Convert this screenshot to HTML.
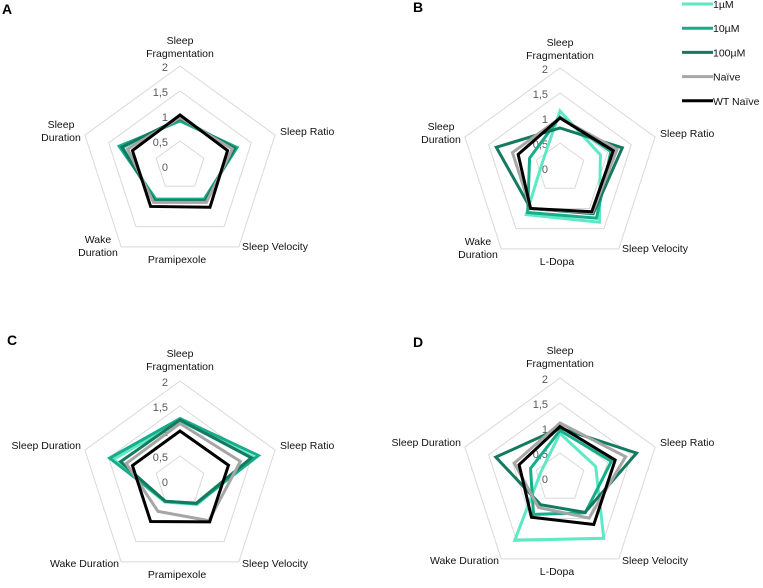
<!DOCTYPE html>
<html><head><meta charset="utf-8"><style>
body{margin:0;background:#fff;}
svg{display:block;font-family:"Liberation Sans",sans-serif;}
</style></head><body>
<svg id="chart" width="763" height="588" viewBox="0 0 763 588" xmlns="http://www.w3.org/2000/svg"></svg>
<script>
const axes = ["Sleep Fragmentation","Sleep Ratio","Sleep Velocity","Wake Duration","Sleep Duration"];
const seriesNames = ["1µM","10µM","100µM","Naïve","WT Naïve"];
const seriesColors = ["#5de8c6","#17ad8a","#147a5f","#a6a6a6","#000000"];
const ticks = [0,0.5,1,1.5,2];
const tickLabels = ["0","0,5","1","1,5","2"];
// values per panel, order of axes
const panelA = [[0.92,1.15,0.85,0.85,1.2],[0.9,1.2,0.82,0.82,1.28],[0.95,1.15,0.86,0.86,1.22],[0.97,1.1,0.9,0.9,1.1],[1.02,1.0,1.02,1.0,1.0]];
const panelB = [[1.14,0.85,1.34,1.15,0.37],[1.02,1.07,1.24,1.1,0.64],[0.8,1.31,1.13,1.0,1.34],[1.0,1.2,1.1,1.0,1.0],[1.0,1.12,1.08,1.0,0.88]];
const panelC = [[1.2,1.55,0.58,0.52,1.4],[1.25,1.65,0.56,0.5,1.48],[1.22,1.5,0.55,0.5,1.25],[1.15,1.27,0.98,0.75,1.13],[1.0,1.02,1.01,1.0,1.0]];
const panelD = [[0.89,0.75,1.49,1.54,0.4],[0.95,1.08,0.86,0.9,0.62],[1.0,1.61,0.85,0.66,1.35],[1.1,1.38,0.99,0.73,0.96],[1.03,1.16,1.15,0.97,0.86]];

const NS="http://www.w3.org/2000/svg";
const svg=document.getElementById('chart');
const R=50; // px per unit
function pt(cx,cy,i,v){const a=i*72*Math.PI/180;return [cx+v*R*Math.sin(a),cy-v*R*Math.cos(a)];}
function mk(tag,attrs,parent){const e=document.createElementNS(NS,tag);for(const k in attrs)e.setAttribute(k,attrs[k]);(parent||svg).appendChild(e);return e;}
function txt(x,y,s,anchor,parent,size,fill){const t=mk('text',{x:x,y:y,'text-anchor':anchor||'middle','font-size':size||10.5,fill:fill||'#111'},parent);t.textContent=s;return t;}

function panel(id,letter,lx,ly,cx,cy,data,compound,layout){
  const g=mk('g',{});
  
  
  const L=txt(lx,ly,letter,'start',g,14,'#000');L.setAttribute('font-weight','bold');
  
  
  ticks.forEach((t,k)=>{
    if(t>0){const p=[0,1,2,3,4].map(i=>pt(cx,cy,i,t).join(',')).join(' ');
      const ring=mk('polygon',{points:p,fill:'none',stroke:'#d9d9d9','stroke-width':1},g);
      
      }
    const tl=txt(cx-12,cy-t*R+5,tickLabels[k],'end',g,11,'#595959');
    
    
  });
  data.forEach((vals,s)=>{
    const p=vals.map((v,i)=>pt(cx,cy,i,v).join(',')).join(' ');
    const pl=mk('polygon',{points:p,fill:'none',stroke:seriesColors[s],'stroke-width':3,'stroke-linejoin':'miter'},g);
    
    
  });
  layout.forEach(l=>{
    l.lines.forEach((s,j)=>{const t=txt(cx+l.dx,cy+l.dy+j*13,s,l.a,g);
      
      });
  });
  const c=txt(cx-3,cy+97,compound,'middle',g);
  
  
}
const layTop=[
 {dx:0,dy:-122,lines:["Sleep","Fragmentation"],a:'middle'},
 {dx:100,dy:-31,lines:["Sleep Ratio"],a:'start'},
 {dx:62,dy:84,lines:["Sleep Velocity"],a:'start'},
 {dx:-82,dy:77,lines:["Wake","Duration"],a:'middle'},
 {dx:-119,dy:-38,lines:["Sleep","Duration"],a:'middle'}];
const layBot=[
 {dx:0,dy:-124,lines:["Sleep","Fragmentation"],a:'middle'},
 {dx:100,dy:-32,lines:["Sleep Ratio"],a:'start'},
 {dx:62,dy:86,lines:["Sleep Velocity"],a:'start'},
 {dx:-61,dy:86,lines:["Wake Duration"],a:'end'},
 {dx:-99,dy:-32,lines:["Sleep Duration"],a:'end'}];
panel('a','A',2,14,180,166,panelA,"Pramipexole",layTop);
panel('b','B',413,12,560,168,panelB,"L-Dopa",layTop);
panel('c','C',7,345,180,481,panelC,"Pramipexole",layBot);
panel('d','D',413,347,560,478,panelD,"L-Dopa",layBot);

const lg=mk('g',{});


seriesNames.forEach((n,i)=>{
  const y=4+i*24.2;
  const ln=mk('line',{x1:682,x2:713,y1:y,y2:y,stroke:seriesColors[i],'stroke-width':3},lg);
  
  
  const t=txt(713,y+4,n,'start',lg,10.5,'#111');
  
  
});
</script>
</body></html>
